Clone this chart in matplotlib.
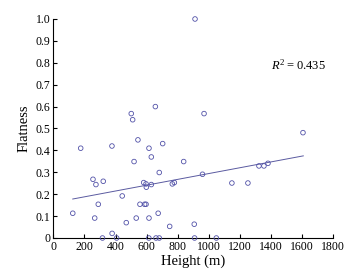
import matplotlib
matplotlib.use("Agg")
import matplotlib.pyplot as plt
from matplotlib.ticker import FuncFormatter

# Datos
height = [911, 501, 510, 656, 969, 176, 377, 544, 703, 615,
          519, 630, 838, 255, 321, 274, 681, 581, 596, 598,
          630, 765, 778, 959, 443, 125, 289, 557, 587, 596,
          266, 469, 533, 615, 674, 748, 906, 378, 316, 407,
          614, 660, 681, 908, 1048, 1605, 1148, 1251, 1322, 1354,
          1380]
flatness = [1.00, 0.568, 0.54, 0.60, 0.568, 0.41, 0.42, 0.448, 0.431, 0.41,
            0.349, 0.37, 0.349, 0.268, 0.259, 0.244, 0.299, 0.253, 0.247, 0.232,
            0.244, 0.247, 0.253, 0.291, 0.192, 0.113, 0.154, 0.154, 0.154, 0.154,
            0.091, 0.07, 0.091, 0.091, 0.113, 0.053, 0.063, 0.021, 0.0, 0.0,
            0.0, 0.0, 0.0, 0.0, 0.0, 0.481, 0.251, 0.251, 0.329, 0.329,
            0.341]

# Recta de ajuste (extremos)
fit_x = [125, 1607]
fit_y = [0.178, 0.375]
r2_text = "0.435"

plt.rcParams["font.family"] = ["Liberation Serif", "DejaVu Serif"]
plt.rcParams["mathtext.fontset"] = "custom"
plt.rcParams["mathtext.it"] = "Liberation Serif:italic"
plt.rcParams["mathtext.rm"] = "Liberation Serif"

fig = plt.figure(figsize=(3.61, 2.76), dpi=100)
ax = fig.add_axes([0.1477, 0.1377, 0.7756, 0.7935])

color = "#5252a8"
ax.scatter(height, flatness, s=11, facecolors="none", edgecolors=color,
           linewidths=0.6, clip_on=False, zorder=3)
ax.plot(fit_x, fit_y, color="#5a5aa0", lw=0.7)

ax.set_xlim(0, 1800)
ax.set_ylim(0, 1.0)
ax.set_xticks(range(0, 1801, 200))
ax.set_yticks([i / 10 for i in range(11)])
ax.yaxis.set_major_formatter(FuncFormatter(lambda v, p: "0" if v == 0 else f"{v:.1f}"))

for s in ["top", "right"]:
    ax.spines[s].set_visible(False)
for s in ["left", "bottom"]:
    ax.spines[s].set_linewidth(0.8)

ax.tick_params(direction="in", length=3, width=0.8, labelsize=8.5, pad=2)

ax.set_xlabel("Height (m)", fontsize=10.5, labelpad=1)
ax.set_ylabel("Flatness", fontsize=10.5, labelpad=4)

ax.text(1399, 0.79, r"$R^2$" + "\u2009=\u2009" + r2_text, fontsize=9, va="center", ha="left")

plt.savefig("out.png", dpi=100)
